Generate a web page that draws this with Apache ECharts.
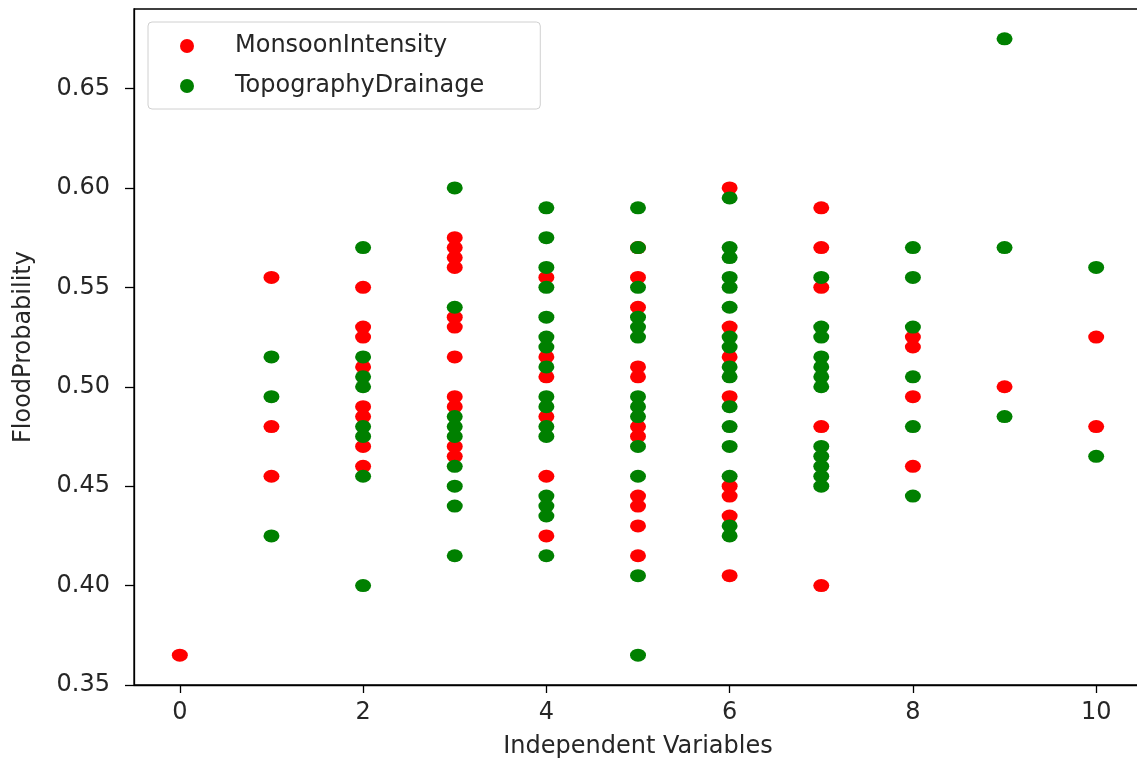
<!DOCTYPE html>
<html>
<head>
<meta charset="utf-8">
<script src="https://cdn.jsdelivr.net/npm/echarts@6/dist/echarts.min.js"></script>
<style>
html,body{margin:0;padding:0;background:#fff;overflow:hidden;}
#chart{width:1150px;height:766px;}
</style>
</head>
<body>
<div id="chart"></div>
<script>
// Values per independent-variable level (index = x value 0..10)
const monsoonIntensity = [
  [0.365],
  [0.555, 0.48, 0.455],
  [0.55, 0.53, 0.525, 0.51, 0.49, 0.485, 0.47, 0.46],
  [0.575, 0.57, 0.565, 0.56, 0.535, 0.53, 0.515, 0.495, 0.49, 0.47, 0.465],
  [0.555, 0.515, 0.505, 0.485, 0.455, 0.425],
  [0.57, 0.555, 0.54, 0.51, 0.505, 0.48, 0.475, 0.445, 0.44, 0.43, 0.415],
  [0.60, 0.53, 0.515, 0.495, 0.45, 0.445, 0.435, 0.405],
  [0.59, 0.57, 0.55, 0.48, 0.40],
  [0.525, 0.52, 0.495, 0.46],
  [0.50],
  [0.525, 0.48]
];
const topographyDrainage = [
  [],
  [0.515, 0.495, 0.425],
  [0.57, 0.515, 0.505, 0.50, 0.48, 0.475, 0.455, 0.40],
  [0.60, 0.54, 0.485, 0.48, 0.475, 0.46, 0.45, 0.44, 0.415],
  [0.59, 0.575, 0.56, 0.55, 0.535, 0.525, 0.52, 0.51, 0.495, 0.49, 0.48, 0.475, 0.445, 0.44, 0.435, 0.415],
  [0.59, 0.57, 0.55, 0.535, 0.53, 0.525, 0.495, 0.49, 0.485, 0.47, 0.455, 0.405, 0.365],
  [0.595, 0.57, 0.565, 0.555, 0.55, 0.54, 0.525, 0.52, 0.51, 0.505, 0.49, 0.48, 0.47, 0.455, 0.43, 0.425],
  [0.555, 0.53, 0.525, 0.515, 0.51, 0.505, 0.50, 0.47, 0.465, 0.46, 0.455, 0.45],
  [0.57, 0.555, 0.53, 0.505, 0.48, 0.445],
  [0.675, 0.57, 0.485],
  [0.56, 0.465]
];
const seriesNames = ['MonsoonIntensity', 'TopographyDrainage'];
const xTicks = [0, 2, 4, 6, 8, 10];
const yTicks = [0.35, 0.40, 0.45, 0.50, 0.55, 0.60, 0.65];

function toPairs(groups) {
  const out = [];
  groups.forEach((vals, x) => vals.forEach(v => out.push([x, v])));
  return out;
}

const FONT = 'DejaVu Sans';
const TXT = '#262626';
const chart = echarts.init(document.getElementById('chart'), null, {renderer: 'canvas'});
chart.setOption({
  animation: false,
  backgroundColor: '#fff',
  textStyle: {fontFamily: FONT},
  grid: {left: 134, top: 9, width: 1008, height: 676, show: true, borderColor: '#000', borderWidth: 1.3, backgroundColor: 'transparent'},
  legend: {
    orient: 'vertical', left: 148, top: 22,
    padding: [10, 56, 9, 32],
    itemWidth: 14, itemHeight: 14, itemGap: 12,
    icon: 'circle',
    borderColor: '#d0d0d0', borderWidth: 1, borderRadius: 4,
    backgroundColor: 'rgba(255,255,255,0.85)',
    textStyle: {fontFamily: FONT, fontSize: 24, color: TXT, lineHeight: 28, padding: [0, 0, 0, 36]},
    data: seriesNames
  },
  xAxis: {
    type: 'value', min: -0.5, max: 10.5,
    name: 'Independent Variables', nameLocation: 'middle', nameGap: 50,
    nameTextStyle: {fontFamily: FONT, fontSize: 24, color: TXT},
    axisLine: {show: true, onZero: false, lineStyle: {color: '#000', width: 1.3}},
    axisTick: {show: true, length: 8, lineStyle: {color: '#000', width: 1.3}, customValues: xTicks},
    axisLabel: {fontFamily: FONT, fontSize: 24, color: TXT, margin: 16, customValues: xTicks, formatter: v => String(v)},
    splitLine: {show: false}
  },
  yAxis: {
    type: 'value', min: 0.35, max: 0.69,
    name: 'FloodProbability', nameLocation: 'middle', nameGap: 98, nameRotate: 90,
    nameTextStyle: {fontFamily: FONT, fontSize: 24, color: TXT},
    axisLine: {show: true, onZero: false, lineStyle: {color: '#000', width: 1.3}},
    axisTick: {show: true, length: 9, lineStyle: {color: '#000', width: 1.3}, customValues: yTicks},
    axisLabel: {fontFamily: FONT, fontSize: 24, color: TXT, margin: 24, customValues: yTicks, formatter: v => v.toFixed(2)},
    splitLine: {show: false}
  },
  series: [
    {name: seriesNames[0], type: 'scatter', data: toPairs(monsoonIntensity), symbol: 'circle', symbolSize: [16, 13], itemStyle: {color: '#ff0000', opacity: 1}, z: 2},
    {name: seriesNames[1], type: 'scatter', data: toPairs(topographyDrainage), symbol: 'circle', symbolSize: [16, 13], itemStyle: {color: '#008000', opacity: 1}, z: 3}
  ]
});
</script>
</body>
</html>
